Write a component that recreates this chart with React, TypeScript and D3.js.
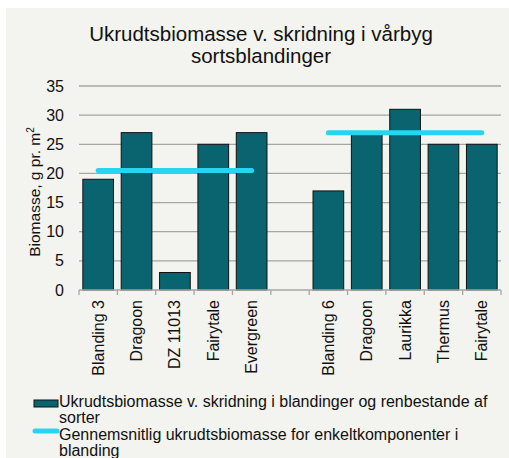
import { useEffect, useRef } from "react";
import * as d3 from "d3";

const group1Labels = ["Blanding 3", "Dragoon", "DZ 11013", "Fairytale", "Evergreen"];
const group1Values = [19, 27, 3, 25, 27];
const group2Labels = ["Blanding 6", "Dragoon", "Laurikka", "Thermus", "Fairytale"];
const group2Values = [17, 27, 31, 25, 25];
const groupMeans = [20.5, 27];
const yTicks = [0, 5, 10, 15, 20, 25, 30, 35];

const titleLines = ["Ukrudtsbiomasse v. skridning i vårbyg", "sortsblandinger"];
const barLegend = ["Ukrudtsbiomasse v. skridning i blandinger og renbestande af", "sorter"];
const lineLegend = ["Gennemsnitlig ukrudtsbiomasse for enkeltkomponenter i", "blanding"];

export default function App() {
  const ref = useRef<HTMLDivElement>(null);

  useEffect(() => {
    if (!ref.current) return;
    const el = ref.current;
    el.innerHTML = "";

    const width = 509, height = 458;
    const font = "'Liberation Sans', Arial, sans-serif";
    const barColor = "#0a6470";
    const lineColor = "#26d5ef";

    // slots: group1, an empty slot, group2
    const slots = [
      ...group1Labels.map((l, i) => ({ key: "a" + i, label: l, value: group1Values[i] as number | null })),
      { key: "gap", label: "", value: null as number | null },
      ...group2Labels.map((l, i) => ({ key: "b" + i, label: l, value: group2Values[i] as number | null })),
    ];

    const svg = d3.select(el).append("svg")
      .attr("width", width).attr("height", height)
      .style("display", "block")
      .style("font-family", font);

    svg.append("rect").attr("x", 6).attr("y", 8)
      .attr("width", width - 6).attr("height", height - 8)
      .attr("fill", "#f3f3ef");

    const x = d3.scaleBand()
      .domain(slots.map(d => d.key))
      .range([79, 501])
      .paddingInner(0.2)
      .paddingOuter(0.1);

    const y = d3.scaleLinear().domain([0, 35]).range([290, 86]);

    // title
    svg.append("text")
      .attr("text-anchor", "middle")
      .attr("font-size", 20.5)
      .attr("fill", "#111")
      .selectAll("tspan")
      .data(titleLines)
      .join("tspan")
      .attr("x", 261)
      .attr("y", (_, i) => 41 + i * 22)
      .text(d => d);

    // gridlines
    svg.append("g")
      .selectAll("line")
      .data(yTicks.filter(t => t > 0))
      .join("line")
      .attr("x1", 79).attr("x2", 501)
      .attr("y1", d => y(d)).attr("y2", d => y(d))
      .attr("stroke", "#a6a6a6").attr("stroke-width", 1.3);

    // y tick labels
    svg.append("g")
      .selectAll("text")
      .data(yTicks)
      .join("text")
      .attr("x", 64)
      .attr("y", d => y(d) + 5.5)
      .attr("text-anchor", "end")
      .attr("font-size", 16)
      .attr("fill", "#111")
      .text(d => d);

    // y axis title
    const yt = svg.append("text")
      .attr("transform", "translate(40,192) rotate(-90)")
      .attr("text-anchor", "middle")
      .attr("font-size", 15.5)
      .attr("fill", "#111");
    yt.append("tspan").text("Biomasse, g pr. m");
    yt.append("tspan").attr("font-size", 10).attr("dy", -6).text("2");

    // bars
    svg.append("g")
      .selectAll("rect")
      .data(slots.filter(d => d.value != null))
      .join("rect")
      .attr("x", d => x(d.key)!)
      .attr("y", d => y(d.value as number))
      .attr("width", x.bandwidth())
      .attr("height", d => y(0) - y(d.value as number))
      .attr("fill", barColor)
      .attr("stroke", "#111")
      .attr("stroke-width", 1);

    // mean lines across each group
    const center = (k: string) => x(k)! + x.bandwidth() / 2;
    const groups = [group1Labels.map((_, i) => "a" + i), group2Labels.map((_, i) => "b" + i)];
    svg.append("g")
      .selectAll("line")
      .data(groups)
      .join("line")
      .attr("x1", (d) => center(d[0]))
      .attr("x2", (d) => center(d[d.length - 1]))
      .attr("y1", (_, i) => y(groupMeans[i]))
      .attr("y2", (_, i) => y(groupMeans[i]))
      .attr("stroke", lineColor)
      .attr("stroke-width", 5)
      .attr("stroke-linecap", "round");

    // x axis baseline and slot ticks
    const step = x.step();
    const x0 = x(slots[0].key)! - x.paddingOuter() * step;
    const boundaries = d3.range(slots.length + 1).map(i => x0 + i * step);
    svg.append("line")
      .attr("x1", 79).attr("x2", 501)
      .attr("y1", y(0)).attr("y2", y(0))
      .attr("stroke", "#a6a6a6").attr("stroke-width", 1.3);
    svg.append("g")
      .selectAll("line")
      .data(boundaries)
      .join("line")
      .attr("x1", d => d).attr("x2", d => d)
      .attr("y1", y(0)).attr("y2", y(0) + 5)
      .attr("stroke", "#a6a6a6").attr("stroke-width", 1.3);

    // x labels
    svg.append("g")
      .selectAll("text")
      .data(slots.filter(d => d.label))
      .join("text")
      .attr("transform", d => `translate(${center(d.key) + 5.5},300) rotate(-90)`)
      .attr("text-anchor", "end")
      .attr("font-size", 16)
      .attr("fill", "#111")
      .text(d => d.label);

    // legend
    const lg = svg.append("g").attr("font-size", 16).attr("fill", "#111");
    lg.append("rect").attr("x", 34).attr("y", 400).attr("width", 24).attr("height", 7)
      .attr("fill", barColor).attr("stroke", "#111").attr("stroke-width", 1);
    lg.append("text").selectAll("tspan").data(barLegend).join("tspan")
      .attr("x", 59).attr("y", (_, i) => 407 + i * 15.5).text(d => d);
    lg.append("line").attr("x1", 35).attr("x2", 57).attr("y1", 431).attr("y2", 431)
      .attr("stroke", lineColor).attr("stroke-width", 5).attr("stroke-linecap", "round");
    lg.append("text").selectAll("tspan").data(lineLegend).join("tspan")
      .attr("x", 59).attr("y", (_, i) => 440 + i * 16).text(d => d);
  }, []);

  return <div ref={ref} style={{ position: "absolute", left: 0, top: 0 }} />;
}
